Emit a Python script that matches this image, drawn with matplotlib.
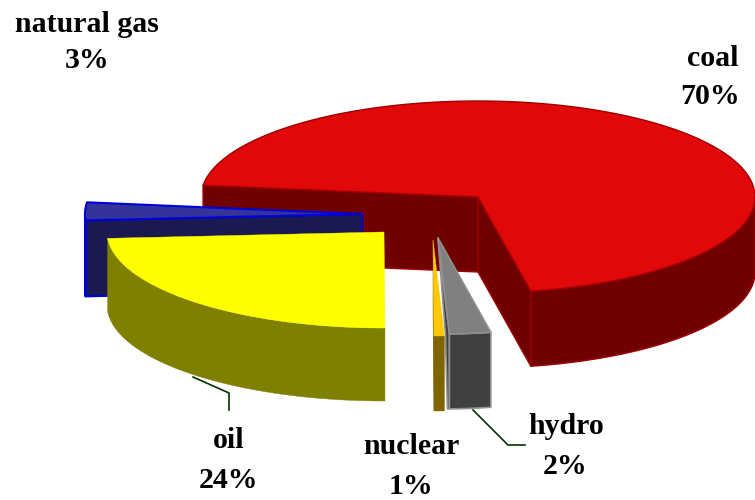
"""
Exploded 3D pie of generation shares, drawn as projected polygons
"""

import numpy as np
import matplotlib
matplotlib.use("Agg")
import matplotlib.pyplot as plt
from matplotlib.patches import Polygon

# data (labels in the picture are rounded: hydro 2%, nuclear 1%)
names = ['coal', 'hydro', 'nuclear', 'oil', 'natural gas']
shares = [70, 2.4, 0.6, 24, 3]

# per-slice styling, same order as names
apexes = [(478, 197), (438, 238), (433, 240), (384, 232), (362, 214)]
depths = [75, 75, 75, 73, 76]
top_colors = ['#e00808', '#808080', '#ffc800', '#ffff00', '#333399']
side_colors = ['#700000', '#404040', '#806400', '#808000', '#1a1a50']
edge_colors = ['#a00000', '#909090', None, None, '#0000d8']
edge_widths = [1.0, 1.2, 0, 0, 1.5]
label_pos = [(713, 58.5), (566, 427), (411, 447), (229, 441), (87, 24)]
pct_pos = [(710, 97), (565, 466), (411, 486), (228, 480), (87, 61)]

leaders = [([193, 229, 229], [377, 393, 410]),
           ([473, 508, 525], [410, 445, 445])]

RX, RY = 277, 96
START = -83  # degrees clockwise from 12 o'clock


def rim(apex, a0, a1, n=80):
    t = np.radians(np.linspace(a0, a1, n))
    return np.column_stack([apex[0] + RX * np.sin(t), apex[1] - RY * np.cos(t)])


def add_poly(ax, pts, color, edge=None, lw=1.0):
    ax.add_patch(Polygon(pts, closed=True, facecolor=color,
                         edgecolor=edge if edge else color,
                         linewidth=lw if edge else 0.3, joinstyle='round'))


def draw_slice(ax, apex, a0, a1, depth, top, side, edge, lw, thin_wall=False):
    apex = np.array(apex, dtype=float)
    drop = np.array([0, depth])
    # radial walls, only the ones turned towards the viewer
    for ang, visible in ((a0, np.sin(np.radians(a0)) < 0),
                         (a1, np.sin(np.radians(a1)) > 0)):
        if not visible:
            continue
        p = rim(apex, ang, ang, 2)[0]
        if thin_wall:
            # hydro wall shows only as a sliver in the source
            add_poly(ax, [apex, p, p + drop, p + drop - [2, 0], p - [4, 0]],
                     side, edge, lw)
        else:
            add_poly(ax, [apex, p, p + drop, apex + drop], side, edge, lw)
    # outer curved wall, only the front half shows
    f0, f1 = max(a0, 90), min(a1, 270)
    if f0 < f1:
        arc = rim(apex, f0, f1)
        add_poly(ax, np.vstack([arc, arc[::-1] + drop]), side, edge, lw)
    # top face
    add_poly(ax, np.vstack([[apex], rim(apex, a0, a1, 160)]), top, edge, lw)


fig = plt.figure(figsize=(7.55, 5.0), dpi=100)
ax = fig.add_axes([0, 0, 1, 1])
ax.set_xlim(0, 755)
ax.set_ylim(500, 0)
ax.axis('off')

# slice spans come from the shares
angles = START + np.cumsum([0] + shares) * 3.6
for i in [0, 4, 3, 1, 2]:
    draw_slice(ax, apexes[i], angles[i], angles[i + 1], depths[i],
               top_colors[i], side_colors[i], edge_colors[i], edge_widths[i],
               thin_wall=(names[i] == 'hydro'))

for xs, ys in leaders:
    ax.plot(xs, ys, color='#003300', lw=1.2)

for name, share, lp, pp in zip(names, shares, label_pos, pct_pos):
    for txt, (x, y) in ((name, lp), (f'{share:.0f}%', pp)):
        ax.text(x, y, txt, ha='center', va='center', color='black',
                family='Liberation Serif', weight='bold', fontsize=21.5)

fig.savefig('out.png', dpi=100)
